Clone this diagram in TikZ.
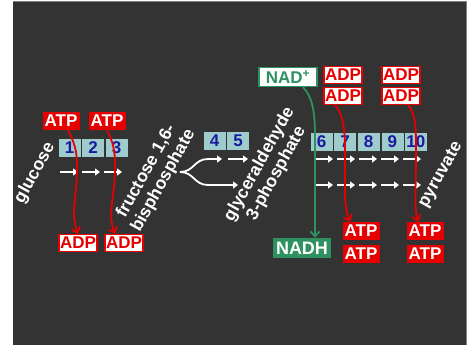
\documentclass[tikz,border=0pt]{standalone}
\usepackage{fontspec}
\setmainfont{Liberation Sans}
\usetikzlibrary{arrows.meta, positioning, calc}
\definecolor{bg}{HTML}{333333}
\definecolor{glyred}{HTML}{E60000}
\definecolor{stepfill}{HTML}{9ECCCC}
\definecolor{stepblue}{HTML}{1A1AA0}
\definecolor{nadgreen}{HTML}{2E9160}

\begin{document}
\begin{tikzpicture}[x=1pt, y=-1pt,
	every node/.style={font=\bfseries\fontsize{17}{18}\selectfont, inner sep=0pt},
	atpbox/.style={rectangle, fill=glyred, text=white, minimum height=18pt, minimum width=37pt},
	adpbox/.style={rectangle, draw=glyred, line width=1.2pt, fill=white, text=glyred, minimum height=17pt, minimum width=38pt},
	stepbox/.style={rectangle, fill=stepfill, draw=bg, line width=.6pt, text=stepblue, minimum height=19pt, minimum width=23pt},
	nadbox/.style={rectangle, draw=nadgreen, line width=1.2pt, fill=white, text=nadgreen, minimum height=19pt, minimum width=58pt},
	nadhbox/.style={rectangle, fill=nadgreen, text=white, minimum height=20pt, minimum width=58pt, font=\bfseries\fontsize{18}{18}\selectfont},
	moltext/.style={text=white, align=center, rotate=61, font=\bfseries\fontsize{17.5}{19.5}\selectfont},
	redarrow/.style={-{Straight Barb[length=5pt, width=9pt]}, glyred, line width=1.8pt},
	greenarrow/.style={-{Straight Barb[length=5pt, width=9pt]}, nadgreen, line width=1.8pt},
	flow/.style={-{Triangle[length=5pt, width=7pt]}, white, line width=1.8pt}
	]
	
	% background
	\fill[bg] (13,1) rectangle (466,345);
	\draw[gray, line width=1pt] (13,1) -- (466,1) -- (466,345);
	\useasboundingbox (0,0) rectangle (473,346);
	
	% first stage
	\node[atpbox] (atp1) at (61,121) {ATP};
	\node[atpbox] (atp2) at (107,121) {ATP};
	\node[stepbox] (s1) at (69.5,148) {1};
	\node[stepbox, right=0pt of s1] (s2) {2};
	\node[stepbox, right=0pt of s2] (s3) {3};
	\node[adpbox] (adp1) at (78,243) {ADP};
	\node[adpbox] (adp2) at (124,243) {ADP};
	\node[moltext] (glc) at (35,173) {glucose};
	\node[moltext] (fbp) at (155,176) {fructose 1,6-\\bisphosphate};
	
	% split
	\node[stepbox] (s4) at (214.5,141) {4};
	\node[stepbox, right=0pt of s4] (s5) {5};
	\node[moltext] (g3p) at (268,169) {glyceraldehyde\\3-phosphate};
	
	% second stage
	\node[nadbox] (nad) at (288,77) {NAD\textsuperscript{+}};
	\node[adpbox] (adp3) at (343,75) {ADP};
	\node[adpbox] (adp4) at (343,96) {ADP};
	\node[adpbox] (adp5) at (401,75) {ADP};
	\node[adpbox] (adp6) at (401,96) {ADP};
	\node[stepbox] (s6) at (321.5,142) {6};
	\node[stepbox, right=0pt of s6] (s7) {7};
	\node[stepbox, right=0pt of s7] (s8) {8};
	\node[stepbox, right=0pt of s8] (s9) {9};
	\node[stepbox, right=0pt of s9] (s10) {10};
	\node[nadhbox] (nadh) at (302,248) {NADH};
	\node[atpbox] (atp3) at (361,231) {ATP};
	\node[atpbox] (atp4) at (361,254) {ATP};
	\node[atpbox] (atp5) at (425,231) {ATP};
	\node[atpbox] (atp6) at (425,254) {ATP};
	\node[moltext] (pyr) at (441,175) {pyruvate};
	
	% reaction arrows
	\foreach \x in {60,82,104}
		\draw[flow] (\x,172) -- ++(18,0);
	\draw[flow] (180,172) .. controls (194,172) and (194,159) .. (208,159) -- (222,159);
	\draw[flow] (180,172) .. controls (194,172) and (194,185) .. (208,185) -- (238,185);
	\draw[flow] (228,159) -- (248,159);
	\foreach \x in {315,337,359,381,403}{
		\draw[flow] (\x,159) -- ++(18,0);
		\draw[flow] (\x,185) -- ++(18,0);
	}
	
	% cofactors
	\draw[redarrow] ([xshift=7pt]atp1.south) .. controls +(6,12) and +(0,-15) .. (77,165) .. controls +(0,35) and +(-8,-22) .. (adp1.north);
	\draw[redarrow] (atp2.south) .. controls +(6,12) and +(0,-15) .. (115,165) .. controls +(0,35) and +(-8,-22) .. ([xshift=-9pt]adp2.north);
	\draw[greenarrow] ([xshift=15pt]nad.south) .. controls +(10,10) and +(0,-20) .. (315,135) -- ([xshift=13pt]nadh.north);
	\draw[redarrow] ([xshift=-8pt]adp4.south) .. controls +(8,8) and +(0,-20) .. (345,150) .. controls +(0,45) and +(-6,-15) .. ([xshift=-11pt]atp3.north);
	\draw[redarrow] ([xshift=7pt]adp6.south) .. controls +(8,8) and +(0,-20) .. (416,150) .. controls +(0,45) and +(-4,-15) .. ([xshift=-7pt]atp5.north);
\end{tikzpicture}
\end{document}
